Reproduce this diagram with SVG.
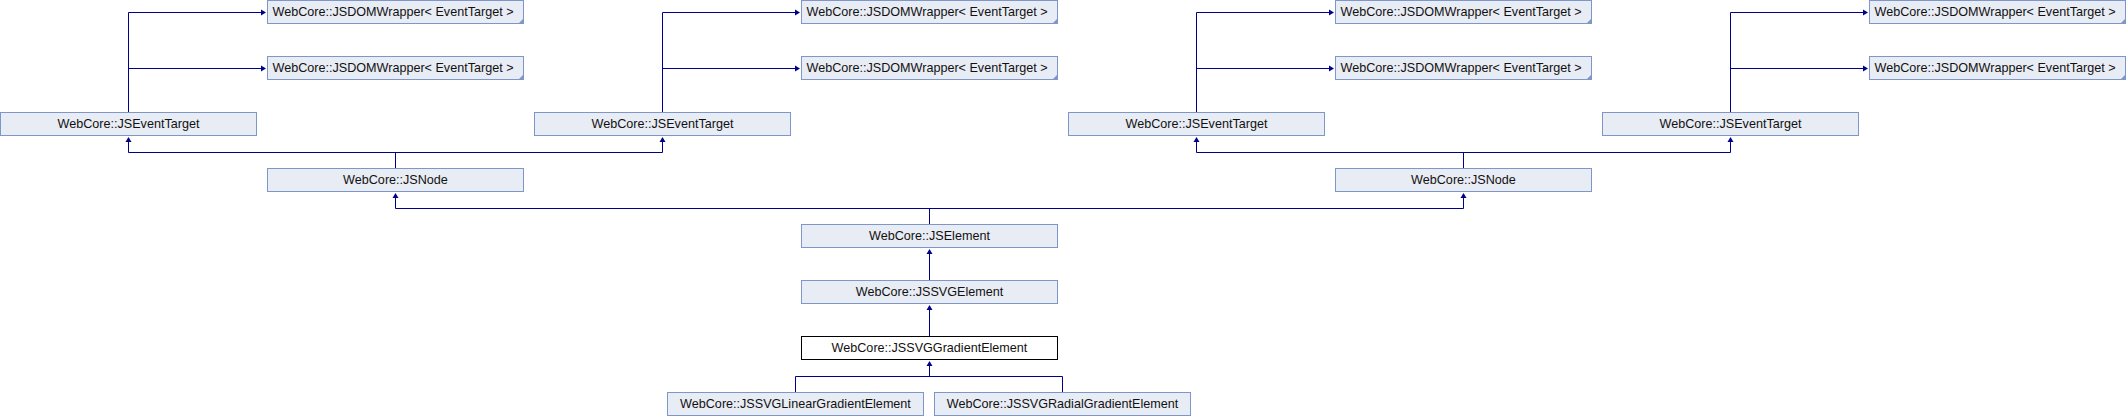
<svg xmlns="http://www.w3.org/2000/svg" width="2126" height="416" viewBox="0 0 2126 416">
<style>
.b{fill:#E8ECF4;stroke:#7F96C8;stroke-width:1}
.h{fill:#FFFFFF;stroke:#000000;stroke-width:1}
.t{font-family:"Liberation Sans",Arial,sans-serif;font-size:12.6px;fill:#111;text-anchor:middle}
.c{fill:none;stroke:#00008B;stroke-width:1}
.a{fill:#00008B}
.k{fill:#7F96C8}
</style>
<defs>
<g id="dw"><rect class="b" x="0.5" y="0.5" width="256" height="23"/><polygon class="k" points="257,18 257,24 251,24"/><text class="t" x="126" y="16">WebCore::JSDOMWrapper&lt; EventTarget &gt;</text></g>
<polygon id="ar" class="a" points="0,0 -5,-3 -5,3"/>
<polygon id="au" class="a" points="0,0 -3,5 3,5"/>
</defs>
<g id="connectors">
<path class="c" d="M128.5,112 V12.5 H262 M128.5,68.5 H262"/>
<path class="c" d="M662.5,112 V12.5 H796 M662.5,68.5 H796"/>
<path class="c" d="M1196.5,112 V12.5 H1330 M1196.5,68.5 H1330"/>
<path class="c" d="M1730.5,112 V12.5 H1864 M1730.5,68.5 H1864"/>
<use href="#ar" x="266" y="12.5"/><use href="#ar" x="266" y="68.5"/>
<use href="#ar" x="800" y="12.5"/><use href="#ar" x="800" y="68.5"/>
<use href="#ar" x="1334" y="12.5"/><use href="#ar" x="1334" y="68.5"/>
<use href="#ar" x="1868" y="12.5"/><use href="#ar" x="1868" y="68.5"/>
<path class="c" d="M395.5,168 V152.5 M128.5,141 V152.5 H662.5 V141"/>
<use href="#au" x="128.5" y="137"/><use href="#au" x="662.5" y="137"/>
<path class="c" d="M1463.5,168 V152.5 M1196.5,141 V152.5 H1730.5 V141"/>
<use href="#au" x="1196.5" y="137"/><use href="#au" x="1730.5" y="137"/>
<path class="c" d="M929.5,224 V208.5 M395.5,197 V208.5 H1463.5 V197"/>
<use href="#au" x="395.5" y="193"/><use href="#au" x="1463.5" y="193"/>
<path class="c" d="M929.5,280 V253"/>
<use href="#au" x="929.5" y="249"/>
<path class="c" d="M929.5,336 V309"/>
<use href="#au" x="929.5" y="305"/>
<path class="c" d="M795.5,392 V376.5 H1062.5 V392 M929.5,376.5 V365"/>
<use href="#au" x="929.5" y="361"/>
</g>
<g id="dw1"><use href="#dw" x="267" y="0"/></g>
<g id="dw2"><use href="#dw" x="267" y="56"/></g>
<g id="dw3"><use href="#dw" x="801" y="0"/></g>
<g id="dw4"><use href="#dw" x="801" y="56"/></g>
<g id="dw5"><use href="#dw" x="1335" y="0"/></g>
<g id="dw6"><use href="#dw" x="1335" y="56"/></g>
<g id="dw7"><use href="#dw" x="1869" y="0"/></g>
<g id="dw8"><use href="#dw" x="1869" y="56"/></g>
<g id="et1"><rect class="b" x="0.5" y="112.5" width="256" height="23"/><text class="t" x="128.5" y="128">WebCore::JSEventTarget</text></g>
<g id="et2"><rect class="b" x="534.5" y="112.5" width="256" height="23"/><text class="t" x="662.5" y="128">WebCore::JSEventTarget</text></g>
<g id="et3"><rect class="b" x="1068.5" y="112.5" width="256" height="23"/><text class="t" x="1196.5" y="128">WebCore::JSEventTarget</text></g>
<g id="et4"><rect class="b" x="1602.5" y="112.5" width="256" height="23"/><text class="t" x="1730.5" y="128">WebCore::JSEventTarget</text></g>
<g id="n1"><rect class="b" x="267.5" y="168.5" width="256" height="23"/><text class="t" x="395.5" y="184">WebCore::JSNode</text></g>
<g id="n2"><rect class="b" x="1335.5" y="168.5" width="256" height="23"/><text class="t" x="1463.5" y="184">WebCore::JSNode</text></g>
<g id="el"><rect class="b" x="801.5" y="224.5" width="256" height="23"/><text class="t" x="929.5" y="240">WebCore::JSElement</text></g>
<g id="svgel"><rect class="b" x="801.5" y="280.5" width="256" height="23"/><text class="t" x="929.5" y="296">WebCore::JSSVGElement</text></g>
<g id="grad"><rect class="h" x="801.5" y="336.5" width="256" height="23"/><text class="t" x="929.5" y="352">WebCore::JSSVGGradientElement</text></g>
<g id="lin"><rect class="b" x="667.5" y="392.5" width="256" height="23"/><text class="t" x="795.5" y="408">WebCore::JSSVGLinearGradientElement</text></g>
<g id="rad"><rect class="b" x="934.5" y="392.5" width="256" height="23"/><text class="t" x="1062.5" y="408">WebCore::JSSVGRadialGradientElement</text></g>
</svg>
